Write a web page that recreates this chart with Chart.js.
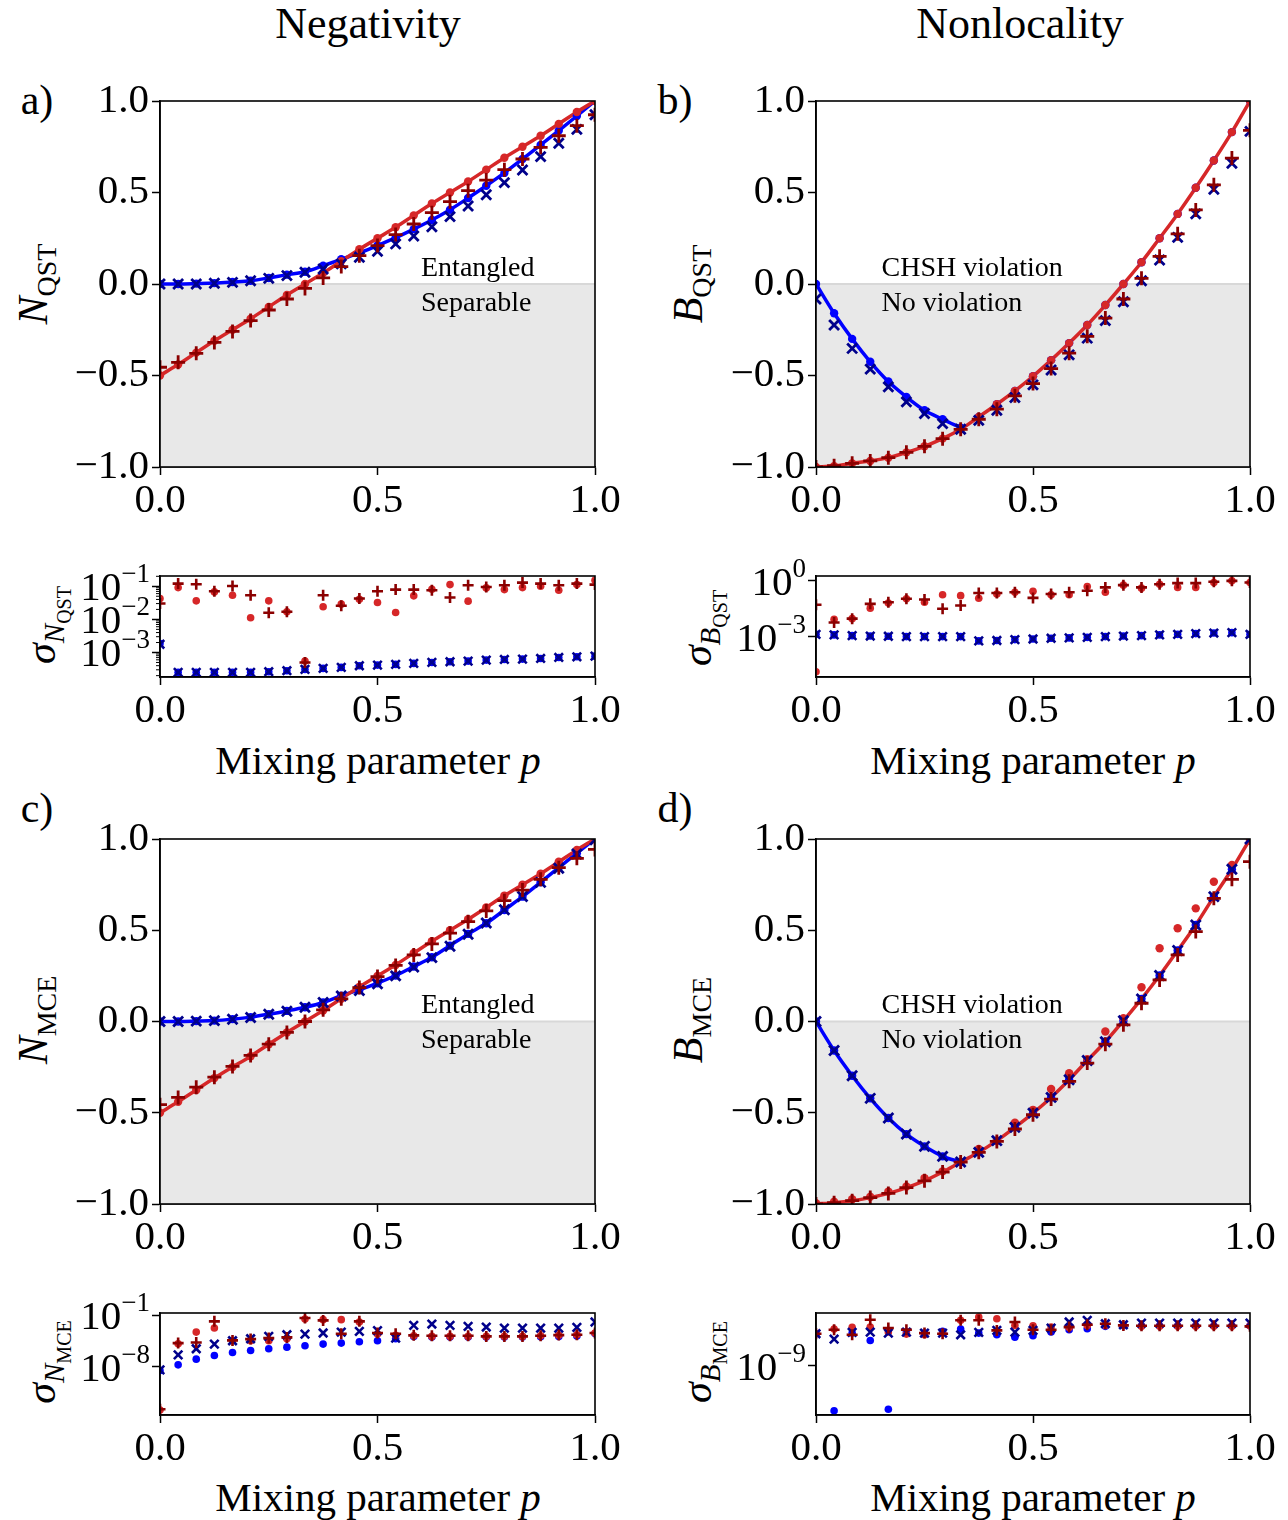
<!DOCTYPE html>
<html>
<head>
<meta charset="utf-8">
<script src="https://cdn.jsdelivr.net/npm/chart.js@4.4.1/dist/chart.umd.min.js"></script>
<style>
  body { margin: 0; background: #fff; width: 1288px; height: 1520px; position: relative; overflow: hidden;
         font-family: 'Liberation Serif', serif; color: #000; }
  canvas { position: absolute; }
  .t { position: absolute; transform: translate(-50%, -50%); white-space: nowrap; line-height: 1; }
  .rot { transform: translate(-50%, -50%) rotate(-90deg); }
  sub { line-height: 0; }
</style>
</head>
<body>

<div class="t" style="left:368px;top:24px;font-size:44px">Negativity</div>
<div class="t" style="left:1020px;top:24px;font-size:44px">Nonlocality</div>

<div class="t" style="left:37px;top:100px;font-size:42px">a)</div>
<div class="t" style="left:675px;top:100px;font-size:42px">b)</div>
<div class="t" style="left:37px;top:808px;font-size:42px">c)</div>
<div class="t" style="left:675px;top:808px;font-size:42px">d)</div>

<div class="t rot" style="left:33px;top:284px;font-size:42px"><i>N</i><sub style="font-size:28px">QST</sub></div>
<div class="t rot" style="left:688px;top:284px;font-size:42px"><i>B</i><sub style="font-size:28px">QST</sub></div>
<div class="t rot" style="left:33px;top:1020px;font-size:42px"><i>N</i><sub style="font-size:28px">MCE</sub></div>
<div class="t rot" style="left:688px;top:1020px;font-size:42px"><i>B</i><sub style="font-size:28px">MCE</sub></div>

<div class="t rot" style="left:42px;top:625px;font-size:42px"><i>σ</i><sub style="font-size:29px"><i>N</i><sub style="font-size:20px">QST</sub></sub></div>
<div class="t rot" style="left:698px;top:628px;font-size:42px"><i>σ</i><sub style="font-size:29px"><i>B</i><sub style="font-size:20px">QST</sub></sub></div>
<div class="t rot" style="left:42px;top:1362px;font-size:42px"><i>σ</i><sub style="font-size:29px"><i>N</i><sub style="font-size:20px">MCE</sub></sub></div>
<div class="t rot" style="left:698px;top:1362px;font-size:42px"><i>σ</i><sub style="font-size:29px"><i>B</i><sub style="font-size:20px">MCE</sub></sub></div>

<div class="t" style="left:378px;top:760px;font-size:41px">Mixing parameter <i>p</i></div>
<div class="t" style="left:1033px;top:760px;font-size:41px">Mixing parameter <i>p</i></div>
<div class="t" style="left:378px;top:1497px;font-size:41px">Mixing parameter <i>p</i></div>
<div class="t" style="left:1033px;top:1497px;font-size:41px">Mixing parameter <i>p</i></div>

<canvas id="mainA"></canvas>
<canvas id="mainB"></canvas>
<canvas id="mainC"></canvas>
<canvas id="mainD"></canvas>
<canvas id="smallA"></canvas>
<canvas id="smallB"></canvas>
<canvas id="smallC"></canvas>
<canvas id="smallD"></canvas>

<script>
// mixing parameter p, 25 settings
const pGrid = [0, 0.0417, 0.0833, 0.125, 0.1667, 0.2083, 0.25, 0.2917, 0.3333, 0.375, 0.4167, 0.4583, 0.5,
  0.5417, 0.5833, 0.625, 0.6667, 0.7083, 0.75, 0.7917, 0.8333, 0.875, 0.9167, 0.9583, 1];

// a) negativity, QST
const aBlueLine = [0, 0, 0.002, 0.005, 0.011, 0.018, 0.033, 0.051, 0.067, 0.1, 0.135, 0.17, 0.21, 0.253, 0.3, 0.35, 0.406, 0.47, 0.537, 0.607, 0.683, 0.76, 0.838, 0.918, 1.0];
const aRedLine = [-0.5, -0.44, -0.375, -0.31, -0.25, -0.19, -0.125, -0.06, 0.0, 0.06, 0.125, 0.19, 0.25, 0.31, 0.375, 0.44, 0.5, 0.56, 0.625, 0.69, 0.75, 0.81, 0.875, 0.94, 1.0];
const aBlueX = [0, 0, 0, 0.004, 0.009, 0.018, 0.031, 0.046, 0.064, 0.082, 0.11, 0.146, 0.179, 0.219, 0.262, 0.313, 0.368, 0.426, 0.488, 0.554, 0.623, 0.696, 0.769, 0.845, 0.925];
const aRedPlus = [-0.455, -0.428, -0.379, -0.319, -0.259, -0.2, -0.142, -0.082, -0.024, 0.033, 0.095, 0.155, 0.21, 0.27, 0.328, 0.39, 0.45, 0.51, 0.568, 0.625, 0.683, 0.747, 0.81, 0.865, 0.925];

// b) CHSH, QST
const bBlueLine = [0, -0.16, -0.3, -0.425, -0.533, -0.617, -0.69, -0.739, -0.785];
const bRedLine = [-1.0, -0.995, -0.98, -0.967, -0.949, -0.92, -0.887, -0.845, -0.794, -0.726, -0.657, -0.584, -0.504, -0.416, -0.323, -0.224, -0.115, 0.0, 0.119, 0.25, 0.383, 0.526, 0.675, 0.83, 1.0];
const bBlueDot = [0, -0.16, -0.3, -0.425, -0.533, -0.617, -0.69, -0.739, -0.785, -0.726, -0.657, -0.584, -0.504, -0.416, -0.323, -0.224, -0.115, 0.0, 0.119, 0.25, 0.383, 0.526, 0.675, 0.83, 1.0];
const bBlueX = [-0.082, -0.224, -0.352, -0.465, -0.562, -0.644, -0.708, -0.763, -0.794, -0.745, -0.69, -0.62, -0.551, -0.47, -0.387, -0.296, -0.2, -0.097, 0.018, 0.131, 0.255, 0.383, 0.518, 0.66, 0.834];
const bRedPlus = [-1.0, -0.993, -0.98, -0.967, -0.949, -0.92, -0.887, -0.845, -0.794, -0.739, -0.684, -0.611, -0.544, -0.462, -0.378, -0.286, -0.186, -0.082, 0.031, 0.151, 0.274, 0.405, 0.542, 0.688, 0.84];

// c) negativity, MCE
const cBlueLine = [0, 0, 0.002, 0.005, 0.013, 0.024, 0.04, 0.058, 0.078, 0.104, 0.142, 0.173, 0.21, 0.252, 0.301, 0.352, 0.416, 0.48, 0.538, 0.611, 0.684, 0.763, 0.843, 0.922, 1.0];
const cRedLine = [-0.5, -0.44, -0.375, -0.31, -0.25, -0.19, -0.125, -0.06, 0.0, 0.06, 0.125, 0.19, 0.25, 0.31, 0.375, 0.44, 0.5, 0.56, 0.625, 0.69, 0.75, 0.81, 0.875, 0.94, 1.0];
const cBlueX = [0, 0, 0.002, 0.005, 0.012, 0.022, 0.04, 0.056, 0.078, 0.104, 0.14, 0.17, 0.206, 0.25, 0.298, 0.35, 0.412, 0.478, 0.54, 0.612, 0.685, 0.762, 0.84, 0.918, 0.995];
const cRedPlus = [-0.456, -0.416, -0.36, -0.305, -0.246, -0.186, -0.124, -0.06, 0.0, 0.064, 0.124, 0.186, 0.246, 0.307, 0.365, 0.425, 0.484, 0.547, 0.606, 0.662, 0.72, 0.779, 0.843, 0.894, 0.943];

// d) CHSH, MCE
const dBlueLine = [0, -0.159, -0.297, -0.421, -0.529, -0.617, -0.684, -0.739, -0.77];
const dRedLine = [-1.0, -0.993, -0.982, -0.965, -0.942, -0.91, -0.873, -0.825, -0.77, -0.717, -0.653, -0.58, -0.502, -0.416, -0.319, -0.214, -0.111, 0.004, 0.124, 0.252, 0.389, 0.529, 0.684, 0.834, 1.0];
const dRedDot = [-0.996, -0.987, -0.974, -0.96, -0.932, -0.904, -0.858, -0.821, -0.77, -0.698, -0.653, -0.555, -0.484, -0.37, -0.283, -0.206, -0.055, 0.018, 0.188, 0.401, 0.511, 0.62, 0.766, 0.858, 0.99];
const dBlueDot = [0, -0.159, -0.297, -0.421, -0.529, -0.617, -0.684, -0.739, -0.77, -0.717, -0.653, -0.58, -0.502, -0.416, -0.319, -0.214, -0.111, 0.004, 0.124, 0.252, 0.389, 0.529, 0.684, 0.834, 1.0];
const dBlueX = [0, -0.159, -0.297, -0.421, -0.529, -0.617, -0.684, -0.739, -0.77, -0.717, -0.653, -0.58, -0.502, -0.416, -0.319, -0.214, -0.111, 0.004, 0.124, 0.252, 0.389, 0.529, 0.684, 0.834, 1.0];
const dRedPlus = [-1.0, -0.993, -0.982, -0.965, -0.942, -0.91, -0.873, -0.825, -0.77, -0.717, -0.657, -0.589, -0.511, -0.425, -0.328, -0.228, -0.124, -0.018, 0.1, 0.228, 0.365, 0.493, 0.675, 0.779, 0.876];

// error panels, values given as log10(sigma)
const saRedDot = [-1.37, -1.04, -1.44, -1.17, -1.27, -1.95, -1.44, -1.77, -3.26, -1.62, -1.54, -1.39, -1.49, -1.79, -1.29, -1.09, -0.95, -1.45, -1.05, -1.1, -1.04, -1.0, -1.12, -0.95, -0.82];
const saRedPlus = [-1.52, -0.92, -0.94, -1.15, -0.99, -1.27, -1.8, -1.77, -3.3, -1.27, -1.59, -1.37, -1.15, -1.1, -1.1, -1.12, -1.34, -0.97, -1.02, -0.97, -0.89, -0.92, -0.97, -0.92, -0.95];
const saBlueDot = [-2.73, -3.6, -3.6, -3.6, -3.6, -3.6, -3.58, -3.55, -3.51, -3.48, -3.45, -3.4, -3.38, -3.36, -3.33, -3.3, -3.28, -3.26, -3.23, -3.21, -3.2, -3.18, -3.15, -3.13, -3.11];
const saBlueX = [-2.75, -3.6, -3.6, -3.6, -3.6, -3.6, -3.58, -3.55, -3.51, -3.48, -3.45, -3.4, -3.38, -3.36, -3.33, -3.3, -3.28, -3.26, -3.23, -3.21, -3.2, -3.18, -3.15, -3.13, -3.11];

const sbRedDot = [-4.86, -2.05, -2.02, -1.46, -1.18, -0.96, -1.14, -0.74, -0.79, -0.93, -0.7, -0.61, -0.56, -0.74, -0.74, -0.3, -0.61, -0.23, -0.39, -0.18, -0.35, -0.35, -0.09, 0.0, -0.09];
const sbRedPlus = [-1.28, -2.23, -2.02, -1.23, -1.14, -0.96, -1.0, -1.49, -1.32, -0.65, -0.65, -0.61, -0.91, -0.7, -0.61, -0.53, -0.35, -0.23, -0.35, -0.18, -0.12, -0.12, -0.05, 0.0, -0.09];
const sbBlueDot = [-2.86, -2.89, -2.93, -2.95, -2.96, -2.98, -2.98, -2.98, -2.98, -3.21, -3.19, -3.14, -3.11, -3.07, -3.05, -3.02, -2.98, -2.95, -2.93, -2.89, -2.86, -2.82, -2.79, -2.77, -2.86];
const sbBlueX = [-2.86, -2.89, -2.93, -2.95, -2.96, -2.98, -2.98, -2.98, -2.98, -3.21, -3.19, -3.14, -3.11, -3.07, -3.05, -3.02, -2.98, -2.95, -2.93, -2.89, -2.86, -2.82, -2.79, -2.77, -2.86];

const scRedDot = [-13.95, -4.89, -3.29, -2.74, -4.48, -4.48, -4.48, -4.2, -1.5, -1.59, -1.59, -1.91, -3.56, -3.74, -3.79, -3.88, -3.88, -3.88, -3.88, -3.88, -3.88, -3.79, -3.74, -3.65, -3.42];
const scRedPlus = [-13.85, -4.8, -4.71, -1.82, -4.43, -4.25, -4.11, -4.02, -1.37, -1.69, -3.52, -1.82, -3.42, -3.52, -3.74, -3.79, -3.79, -3.79, -3.88, -3.88, -3.88, -3.79, -3.7, -3.65, -3.42];
const scBlueDot = [-8.55, -7.77, -6.99, -6.49, -6.08, -5.8, -5.57, -5.35, -5.16, -4.93, -4.8, -4.61, -4.48, -4.2, -3.88, -3.97, -3.97, -3.97, -3.97, -3.97, -3.97, -3.92, -3.88, -3.83, -3.5];
const scBlueX = [-8.46, -6.4, -5.57, -4.93, -4.48, -4.2, -3.88, -3.65, -3.56, -3.42, -3.29, -3.2, -3.1, -4.11, -2.37, -2.19, -2.37, -2.51, -2.6, -2.74, -2.74, -2.74, -2.74, -2.65, -1.91];

const sdRedDot = [-5.0, -4.42, -4.21, -4.17, -4.79, -5.04, -5.13, -4.92, -3.33, -2.92, -3.13, -3.96, -4.0, -4.17, -4.21, -3.96, -3.96, -3.96, -4.08, -4.08, -4.08, -4.08, -4.08, -4.08, -4.0];
const sdRedPlus = [-5.0, -4.5, -5.13, -3.25, -4.29, -4.5, -4.92, -5.0, -3.33, -3.33, -4.58, -3.54, -4.5, -4.5, -4.17, -3.88, -3.75, -3.96, -4.0, -4.0, -4.0, -4.0, -4.0, -4.0, -4.08];
const sdBlueDot = [-5.0, -14.58, -4.92, -5.83, -14.38, -4.79, -4.92, -4.71, -4.42, -4.92, -5.13, -5.42, -5.25, -4.79, -4.5, -4.38, -4.08, -4.0, -4.0, -4.0, -4.0, -4.0, -4.0, -4.0, -4.0];
const sdBlueX = [-5.0, -5.67, -4.83, -4.79, -4.92, -4.79, -4.92, -4.92, -5.13, -4.83, -4.58, -4.79, -4.58, -4.29, -3.54, -3.33, -3.75, -3.88, -3.67, -3.67, -3.67, -3.67, -3.67, -3.67, -3.67];

const RED = '#d62728', DARKRED = '#8b0000', BLUE = '#0000ff', DARKBLUE = '#00008b';
const FONT = "'Liberation Serif', serif";

Chart.defaults.font.family = FONT;
Chart.defaults.color = '#000';

function pts(ys, isLog) {
  return ys.map((y, i) => ({ x: pGrid[i], y: isLog ? Math.pow(10, y) : y }));
}
function lineDs(ys, color) {
  return { data: pts(ys), showLine: true, borderColor: color, borderWidth: 3.5, pointRadius: 0,
           cubicInterpolationMode: 'monotone', clip: 0 };
}
function dotDs(ys, color, r, isLog) {
  return { data: pts(ys, isLog), pointStyle: 'circle', pointRadius: r, backgroundColor: color,
           borderColor: color, borderWidth: 0, clip: 0 };
}
function markDs(ys, color, style, r, w, isLog) {
  return { data: pts(ys, isLog), pointStyle: style, pointRadius: r, backgroundColor: color,
           borderColor: color, borderWidth: w, clip: 0 };
}
function shadeDs() {
  return { data: [{ x: 0, y: 0 }, { x: 1, y: 0 }], showLine: true, fill: { value: -1 },
           backgroundColor: '#e8e8e8', borderColor: '#d8d8d8', borderWidth: 2, pointRadius: 0, clip: 0 };
}

const framePlugin = {
  id: 'frame',
  afterDatasetsDraw(chart) {
    const { ctx, chartArea: a } = chart;
    ctx.save();
    ctx.strokeStyle = '#000';
    ctx.lineWidth = 1.6;
    ctx.strokeRect(a.left, a.top, a.right - a.left, a.bottom - a.top);
    ctx.restore();
  }
};

const notesPlugin = {
  id: 'notes',
  afterDatasetsDraw(chart, args, opts) {
    if (!opts.items) return;
    const { ctx } = chart;
    const x = chart.scales.x, y = chart.scales.y;
    ctx.save();
    ctx.fillStyle = '#000';
    ctx.font = '28px ' + FONT;
    ctx.textAlign = 'left';
    ctx.textBaseline = 'alphabetic';
    opts.items.forEach(n => ctx.fillText(n.text, x.getPixelForValue(n.x), y.getPixelForValue(n.y)));
    ctx.restore();
  }
};

// "10^k" labels and minor ticks for the log axes
const logLabelPlugin = {
  id: 'logLabels',
  afterDraw(chart, args, opts) {
    if (!opts.exps) return;
    const { ctx, chartArea } = chart;
    const y = chart.scales.y;
    ctx.save();
    ctx.fillStyle = '#000';
    ctx.textAlign = 'left';
    ctx.textBaseline = 'alphabetic';
    opts.exps.forEach(e => {
      const py = y.getPixelForValue(Math.pow(10, e));
      const sup = e < 0 ? '\u2212' + (-e) : String(e);
      const right = chartArea.left - 10;
      ctx.font = '27px ' + FONT;
      const ws = ctx.measureText(sup).width;
      ctx.fillText(sup, right - ws, py - 4);
      ctx.font = '41px ' + FONT;
      const wb = ctx.measureText('10').width;
      ctx.fillText('10', right - ws - wb, py + 14);
    });
    if (opts.minor) {
      ctx.strokeStyle = '#000';
      ctx.lineWidth = 1;
      for (let d = opts.minor[0]; d < opts.minor[1]; d++) {
        for (let m = 2; m <= 9; m++) {
          const v = m * Math.pow(10, d);
          if (v < y.min || v > y.max) continue;
          const py = y.getPixelForValue(v);
          ctx.beginPath();
          ctx.moveTo(chartArea.left, py);
          ctx.lineTo(chartArea.left - 4, py);
          ctx.stroke();
        }
      }
    }
    ctx.restore();
  }
};

function xAxis() {
  return {
    type: 'linear', min: 0, max: 1,
    afterFit: s => { s.height = 63; },
    border: { display: true, color: '#000', width: 1.6 },
    grid: { drawOnChartArea: false, drawTicks: true, tickLength: 8, tickColor: '#000', tickWidth: 1.5 },
    ticks: { stepSize: 0.5, padding: 2, font: { size: 41 }, maxRotation: 0, autoSkip: false,
             callback: v => v.toFixed(1) }
  };
}

function placeCanvas(id, box) {
  const c = document.getElementById(id);
  const w = box.R - box.L + 150, h = box.B - box.T + 93;
  c.width = w; c.height = h;
  c.style.left = (box.L - 110) + 'px';
  c.style.top = (box.T - 30) + 'px';
  c.style.width = w + 'px';
  c.style.height = h + 'px';
  return c;
}

function makeMain(id, box, datasets, notes) {
  const c = placeCanvas(id, box);
  return new Chart(c, {
    type: 'scatter',
    data: { datasets },
    options: {
      responsive: false, animation: false, devicePixelRatio: 1,
      layout: { padding: { top: 30, right: 40, left: 0, bottom: 0 } },
      plugins: { legend: { display: false }, tooltip: { enabled: false }, notes: { items: notes } },
      scales: {
        x: xAxis(),
        y: {
          type: 'linear', min: -1, max: 1,
          afterFit: s => { s.width = 110; },
          border: { display: true, color: '#000', width: 1.6 },
          grid: { drawOnChartArea: false, drawTicks: true, tickLength: 8, tickColor: '#000', tickWidth: 1.5 },
          ticks: { stepSize: 0.5, padding: 3, font: { size: 41 },
                   callback: v => (v < 0 ? '\u2212' : '') + Math.abs(v).toFixed(1) }
        }
      }
    },
    plugins: [framePlugin, notesPlugin]
  });
}

function makeSmall(id, box, datasets, lo, hi, exps, minor) {
  const c = placeCanvas(id, box);
  return new Chart(c, {
    type: 'scatter',
    data: { datasets },
    options: {
      responsive: false, animation: false, devicePixelRatio: 1,
      layout: { padding: { top: 30, right: 40, left: 0, bottom: 0 } },
      plugins: { legend: { display: false }, tooltip: { enabled: false }, logLabels: { exps, minor } },
      scales: {
        x: xAxis(),
        y: {
          type: 'logarithmic', min: Math.pow(10, lo), max: Math.pow(10, hi),
          afterFit: s => { s.width = 110; },
          afterBuildTicks: s => { s.ticks = exps.map(e => ({ value: Math.pow(10, e), major: true })); },
          border: { display: true, color: '#000', width: 1.6 },
          grid: { drawOnChartArea: false, drawTicks: true, tickLength: 8, tickColor: '#000', tickWidth: 1.5 },
          ticks: { callback: () => '', font: { size: 10 } }
        }
      }
    },
    plugins: [framePlugin, logLabelPlugin]
  });
}

function mainSets(blueLine, redLine, blueDot, redDot, blueX, redPlus) {
  return [
    markDs(redPlus, DARKRED, 'cross', 7, 2.8),
    markDs(blueX, DARKBLUE, 'crossRot', 7, 2.8),
    dotDs(redDot, RED, 4.2),
    dotDs(blueDot, BLUE, 4.2),
    lineDs(redLine, RED),
    lineDs(blueLine, BLUE),
    shadeDs()
  ];
}
function smallSets(blueDot, redDot, blueX, redPlus) {
  return [
    markDs(redPlus, DARKRED, 'cross', 5.5, 2.6, true),
    markDs(blueX, DARKBLUE, 'crossRot', 6, 2.6, true),
    dotDs(redDot, RED, 3.8, true),
    dotDs(blueDot, BLUE, 3.8, true)
  ];
}

const negNotes = [{ text: 'Entangled', x: 0.6, y: 0.044 }, { text: 'Separable', x: 0.6, y: -0.146 }];
const chshNotes = [{ text: 'CHSH violation', x: 0.151, y: 0.044 }, { text: 'No violation', x: 0.151, y: -0.146 }];

makeMain('mainA', { L: 160, T: 101, R: 595, B: 467 },
  mainSets(aBlueLine, aRedLine, aBlueLine, aRedLine, aBlueX, aRedPlus), negNotes);
makeMain('mainB', { L: 816, T: 101, R: 1250, B: 467 },
  mainSets(bBlueLine, bRedLine, bBlueDot, bRedLine, bBlueX, bRedPlus), chshNotes);
makeMain('mainC', { L: 160, T: 839, R: 595, B: 1204 },
  mainSets(cBlueLine, cRedLine, cBlueLine, cRedLine, cBlueX, cRedPlus), negNotes);
makeMain('mainD', { L: 816, T: 839, R: 1250, B: 1204 },
  mainSets(dBlueLine, dRedLine, dBlueDot, dRedDot, dBlueX, dRedPlus), chshNotes);

makeSmall('smallA', { L: 160, T: 576, R: 595, B: 677 },
  smallSets(saBlueDot, saRedDot, saBlueX, saRedPlus), -3.74, -0.69, [-1, -2, -3], [-4, 0]);
makeSmall('smallB', { L: 816, T: 576, R: 1250, B: 677 },
  smallSets(sbBlueDot, sbRedDot, sbBlueX, sbRedPlus), -5.14, 0.26, [0, -3], null);
makeSmall('smallC', { L: 160, T: 1313, R: 595, B: 1415 },
  smallSets(scBlueDot, scRedDot, scBlueX, scRedPlus), -14.63, -0.68, [-1, -8], null);
makeSmall('smallD', { L: 816, T: 1313, R: 1250, B: 1415 },
  smallSets(sdBlueDot, sdRedDot, sdBlueX, sdRedPlus), -15.1, -2.42, [-9], null);
</script>
</body>
</html>
